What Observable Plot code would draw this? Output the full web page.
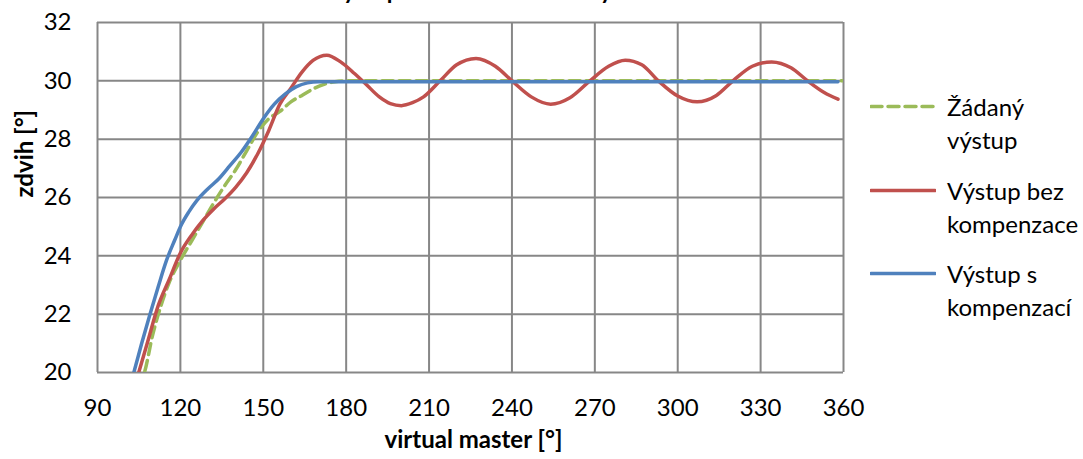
<!DOCTYPE html>
<html>
<head>
<meta charset="utf-8">
<script src="https://cdn.jsdelivr.net/npm/d3@7"></script>
<script src="https://cdn.jsdelivr.net/npm/@observablehq/plot@0.6"></script>
<style>
  html, body { margin: 0; padding: 0; background: #fff; overflow: hidden; }
  #wrap { position: relative; width: 1083px; height: 459px; font-family: Lato, "Open Sans", sans-serif; color: #000; }
  #title { position: absolute; left: 0; width: 940px; top: -23px; line-height: 26px; text-align: center; font-weight: bold; font-size: 23px; }
  #chart { position: absolute; left: 0; top: 0; }
  .legend-item { position: absolute; left: 870px; }
  .legend-item svg { position: absolute; left: 0; }
  .legend-item div { position: absolute; left: 77px; font-size: 24px; line-height: 33px; white-space: nowrap; }
</style>
</head>
<body>
<div id="wrap">
  <div id="chart"></div>
  <div id="title">Výstup z elektronické vačky</div>
  <div id="legend"></div>
</div>
<script>
// Axis ticks
const xTicks = [90, 120, 150, 180, 210, 240, 270, 300, 330, 360];
const yTicks = [20, 22, 24, 26, 28, 30, 32];

// Series names and colours
const seriesNames = ["Žádaný výstup", "Výstup bez kompenzace", "Výstup s kompenzací"];
const seriesColors = ["#9BBB59", "#C0504D", "#4F81BD"];

// Žádaný výstup (required cam output)
const zadanyX = [105, 107, 110, 113, 116, 120, 124, 128, 132, 136, 140, 144, 148, 152, 156, 160, 164, 168, 172, 176, 180, 240, 300, 360];
const zadanyY = [19.5, 20.0, 21.3, 22.3, 23.1, 23.85, 24.5, 25.15, 25.8, 26.4, 26.95, 27.6, 28.25, 28.7, 28.95, 29.28, 29.5, 29.72, 29.88, 29.97, 30.0, 30.0, 30.0, 30.0];

// Výstup bez kompenzace (output without compensation)
const bezX = [104, 108, 112, 116, 120, 124, 128, 132, 136, 140, 144, 148, 152, 156, 160, 164, 168, 173, 178, 183, 187, 192, 196, 200, 204, 208, 214, 220, 227, 234, 240, 247, 254, 261, 268, 275, 281, 287, 293, 300, 307, 314, 320, 327, 334, 341, 347, 353, 358];
const bezY = [19.7, 21.0, 22.3, 23.2, 24.1, 24.7, 25.2, 25.6, 25.95, 26.35, 26.85, 27.5, 28.3, 29.2, 29.75, 30.3, 30.7, 30.88, 30.65, 30.25, 29.9, 29.45, 29.22, 29.15, 29.25, 29.45, 30.0, 30.55, 30.77, 30.5, 30.0, 29.45, 29.2, 29.42, 29.98, 30.5, 30.71, 30.55, 30.0, 29.48, 29.28, 29.5, 30.0, 30.5, 30.65, 30.45, 30.0, 29.6, 29.37];

// Výstup s kompenzací (output with compensation)
const sX = [102, 104, 106, 109, 112, 115, 118, 120, 123, 126, 130, 134, 138, 142, 146, 150, 154, 158, 162, 166, 170, 175, 240, 300, 358];
const sY = [19.6, 20.3, 21.0, 22.0, 22.95, 23.85, 24.55, 25.0, 25.5, 25.9, 26.3, 26.65, 27.1, 27.55, 28.1, 28.7, 29.2, 29.55, 29.8, 29.93, 29.97, 29.97, 29.97, 29.97, 29.97];

const rows = (xs, ys) => xs.map((x, i) => ({x, y: ys[i]}));
const zadany = rows(zadanyX, zadanyY);
const bez = rows(bezX, bezY);
const sKomp = rows(sX, sY);

const gridColor = "#878787";

const chart = Plot.plot({
  width: 1083,
  height: 459,
  marginLeft: 97,
  marginRight: 240,
  marginTop: 22,
  marginBottom: 87,
  x: {domain: [90, 360]},
  y: {domain: [20, 32]},
  style: {fontFamily: "Lato, 'Open Sans', sans-serif", fontSize: "24px", color: "#000", background: "#fff"},
  marks: [
    Plot.gridX(xTicks, {stroke: gridColor, strokeOpacity: 1, strokeWidth: 2}),
    Plot.gridY(yTicks, {stroke: gridColor, strokeOpacity: 1, strokeWidth: 2}),
    Plot.axisX(xTicks, {tickSize: 0, tickPadding: 26, label: null, fontSize: 24}),
    Plot.axisY(yTicks, {tickSize: 0, tickPadding: 26, label: null, fontSize: 24}),
    Plot.text(["zdvih [°]"], {frameAnchor: "left", dx: -72, rotate: -90, fontWeight: "bold", fontSize: 24}),
    Plot.text(["virtual master [°]"], {frameAnchor: "bottom", dy: 75, dx: 3, fontWeight: "bold", fontSize: 24}),
    Plot.line(zadany, {x: "x", y: "y", stroke: seriesColors[0], strokeWidth: 3.5, strokeDasharray: "11,6", curve: "monotone-x", clip: true}),
    Plot.line(bez, {x: "x", y: "y", stroke: seriesColors[1], strokeWidth: 3.5, curve: "monotone-x", clip: true}),
    Plot.line(sKomp, {x: "x", y: "y", stroke: seriesColors[2], strokeWidth: 3.5, curve: "monotone-x", clip: true})
  ]
});
document.getElementById("chart").appendChild(chart);

// Legend on the right: swatch + two-line label per series
const legendLines = [["Žádaný", "výstup"], ["Výstup bez", "kompenzace"], ["Výstup s", "kompenzací"]];
const legendY = [106, 190, 273];
const legend = document.getElementById("legend");
legendLines.forEach((lines, i) => {
  const item = document.createElement("div");
  item.className = "legend-item";
  item.style.top = (legendY[i] - 16.5) + "px";
  const dash = i === 0 ? 'stroke-dasharray="11,6"' : "";
  item.innerHTML =
    `<svg width="66" height="33" style="top:0"><line x1="1" x2="65" y1="16.5" y2="16.5" stroke="${seriesColors[i]}" stroke-width="3.5" stroke-linecap="round" ${dash}/></svg>` +
    `<div style="top:0">${lines[0]}<br>${lines[1]}</div>`;
  legend.appendChild(item);
});
</script>
</body>
</html>
